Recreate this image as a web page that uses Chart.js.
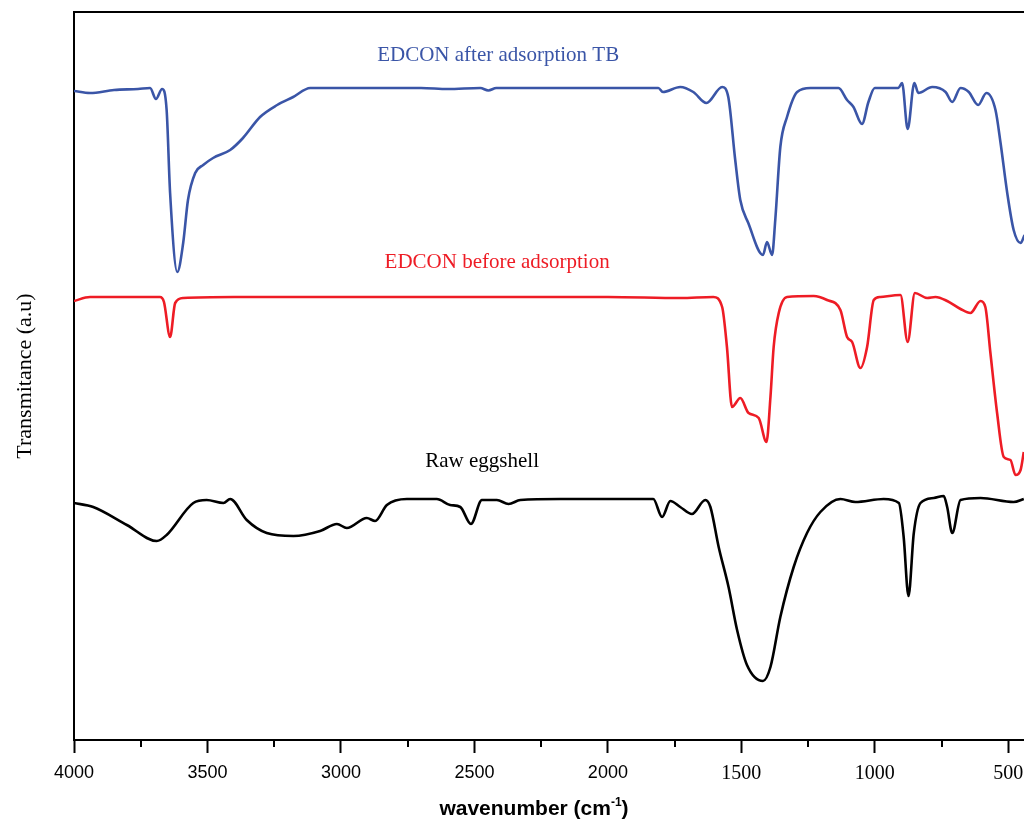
<!DOCTYPE html>
<html>
<head>
<meta charset="utf-8">
<script src="https://cdn.jsdelivr.net/npm/chart.js@4.4.1/dist/chart.umd.min.js"></script>
<style>
    html, body { margin: 0; padding: 0; background: #fff; overflow: hidden; }
    #wrap { width: 1035px; height: 821px; }
</style>
</head>
<body>
<div id="wrap"><canvas id="ftir" width="1035" height="821"></canvas></div>
<script>
/* ============================
============================ */
const xTicks = [4000, 3500, 3000, 2500, 2000, 1500, 1000, 500];
const xMinorTicks = [3750, 3250, 2750, 2250, 1750, 1250, 750];

// EDCON after adsorption TB
const afterWn = [4000, 3940, 3850, 3760, 3715, 3693, 3670, 3653, 3640, 3613,
    3591, 3573, 3546, 3516, 3479, 3415, 3367, 3303, 3239, 3179,
    3115, 3000, 2928, 2700, 2600, 2478, 2448, 2418, 2300, 2100,
    1954, 1811, 1794, 1729, 1680, 1631, 1572, 1549, 1523, 1504,
    1474, 1419, 1404, 1385, 1373, 1354, 1329, 1291, 1241, 1136,
    1104, 1080, 1048, 1024, 1000, 912, 898, 877, 852, 837,
    785, 735, 710, 679, 648, 613, 582, 548, 529, 504,
    480, 454, 439];
const afterT = [64.9, 64.7, 65.0, 65.1, 65.2, 64.1, 65.1, 63.0, 54.7, 46.8,
    49.7, 54.0, 56.7, 57.5, 58.2, 59.0, 60.2, 62.3, 63.5, 64.3,
    65.2, 65.2, 65.2, 65.2, 65.1, 65.2, 64.95, 65.2, 65.2, 65.2,
    65.2, 65.2, 64.8, 65.3, 64.8, 63.7, 65.3, 64.3, 58.0, 54.0,
    51.7, 48.5, 49.8, 48.5, 52.0, 59.3, 62.3, 64.8, 65.2, 65.2,
    64.0, 63.3, 61.6, 63.8, 65.2, 65.2, 65.7, 61.1, 65.7, 64.7,
    65.3, 64.8, 63.8, 65.2, 64.8, 63.5, 64.7, 63.0, 59.7, 54.7,
    51.0, 49.7, 50.5];

// EDCON before adsorption
const beforeWn = [4000, 3940, 3790, 3678, 3663, 3640, 3621, 3590, 3400, 3153,
    2800, 2403, 2000, 1729, 1605, 1572, 1554, 1535, 1504, 1473,
    1435, 1406, 1391, 1379, 1360, 1329, 1229, 1179, 1129, 1104,
    1085, 1054, 1029, 1004, 979, 904, 877, 850, 804, 773,
    729, 679, 642, 604, 586, 567, 542, 517, 492, 473,
    454, 442];
const beforeT = [43.9, 44.3, 44.3, 44.3, 43.8, 40.3, 43.7, 44.2, 44.3, 44.3,
    44.3, 44.3, 44.3, 44.2, 44.3, 43.3, 39.3, 33.3, 34.2, 32.7,
    32.2, 29.8, 34.3, 39.3, 42.7, 44.3, 44.4, 44.0, 43.0, 40.3,
    39.8, 37.2, 39.3, 44.0, 44.3, 44.5, 39.8, 44.7, 44.2, 44.3,
    43.9, 43.1, 42.7, 43.9, 43.3, 38.7, 32.7, 28.3, 28.0, 26.5,
    27.0, 28.8];

// Raw eggshell
const rawWn = [4000, 3928, 3802, 3690, 3653, 3553, 3503, 3440, 3415, 3353,
    3278, 3178, 3078, 3015, 2978, 2903, 2872, 2828, 2753, 2641,
    2591, 2553, 2513, 2472, 2416, 2372, 2328, 2178, 1830, 1797,
    1766, 1729, 1685, 1635, 1616, 1585, 1548, 1516, 1479, 1419,
    1391, 1354, 1304, 1254, 1204, 1129, 1073, 967, 910, 892,
    874, 854, 829, 779, 742, 729, 710, 679, 604, 480,
    442];
const rawT = [23.7, 23.3, 21.5, 19.9, 20.5, 23.7, 24.0, 23.7, 24.1, 22.0,
    20.7, 20.4, 20.9, 21.6, 21.2, 22.2, 21.9, 23.5, 24.1, 24.1,
    23.5, 23.3, 21.6, 24.0, 24.0, 23.6, 24.0, 24.1, 24.1, 22.3,
    23.9, 23.3, 22.6, 24.0, 23.3, 19.3, 15.3, 11.0, 7.5, 5.9,
    7.3, 12.3, 17.3, 20.7, 22.8, 24.1, 23.8, 24.1, 23.7, 20.3,
    14.4, 20.7, 23.7, 24.2, 24.4, 23.3, 20.7, 24.0, 24.2, 23.8,
    24.1];

const seriesNames = ["EDCON after adsorption TB", "EDCON before adsorption", "Raw eggshell"];

/* ============================
   Utils
============================ */
const toPoints = (xs, ys) => xs.map((x, i) => ({ x, y: ys[i] }));
const SERIF = "'Liberation Serif', 'Times New Roman', serif";
const SANS = "'Liberation Sans', Arial, sans-serif";
const BLUE = "#3a55a7";
const RED = "#ee1c25";

// etiquetas sobre las curvas (coordenadas de datos)
const etiquetas = [
    { text: seriesNames[0], x: 2411, y: 68.5, color: BLUE },
    { text: seriesNames[1], x: 2415, y: 47.8, color: RED },
    { text: seriesNames[2], x: 2471, y: 27.9, color: "#000" },
];

const decoPlugin = {
    id: "deco",
    afterDraw(chart) {
        const { ctx, chartArea, scales } = chart;
        const x = scales.x;
        ctx.save();
        // borde superior
        ctx.strokeStyle = "#000";
        ctx.lineWidth = 2;
        ctx.beginPath();
        ctx.moveTo(chartArea.left, chartArea.top);
        ctx.lineTo(chartArea.right, chartArea.top);
        ctx.stroke();

        // ticks menores
        xMinorTicks.forEach((v) => {
            const px = Math.round(x.getPixelForValue(v));
            ctx.beginPath();
            ctx.moveTo(px, chartArea.bottom);
            ctx.lineTo(px, chartArea.bottom + 7);
            ctx.stroke();
        });

        // etiquetas
        ctx.font = `21px ${SERIF}`;
        ctx.textAlign = "center";
        ctx.textBaseline = "middle";
        etiquetas.forEach((e) => {
            ctx.fillStyle = e.color;
            ctx.fillText(e.text, x.getPixelForValue(e.x), scales.y.getPixelForValue(e.y));
        });

        // título eje x con superíndice
        const big = `bold 21px ${SANS}`;
        const small = `bold 12px ${SANS}`;
        const p1 = "wavenumber (cm", p2 = "-1", p3 = ")";
        ctx.font = big;
        const w1 = ctx.measureText(p1).width, w3 = ctx.measureText(p3).width;
        ctx.font = small;
        const w2 = ctx.measureText(p2).width;
        let cx = 534 - (w1 + w2 + w3) / 2;
        const base = 815;
        ctx.textAlign = "left";
        ctx.textBaseline = "alphabetic";
        ctx.fillStyle = "#000";
        ctx.font = big;
        ctx.fillText(p1, cx, base);
        cx += w1;
        ctx.font = small;
        ctx.fillText(p2, cx, base - 9);
        cx += w2;
        ctx.font = big;
        ctx.fillText(p3, cx, base);
        ctx.restore();
    }
};

/* ============================
   Gráfica
============================ */
const lineStyle = (color) => ({
    borderColor: color,
    backgroundColor: color,
    borderWidth: 2.6,
    pointRadius: 0,
    fill: false,
    cubicInterpolationMode: "monotone",
});

new Chart(document.getElementById("ftir").getContext("2d"), {
    type: "line",
    data: {
        datasets: [
            { label: seriesNames[0], data: toPoints(afterWn, afterT), ...lineStyle(BLUE) },
            { label: seriesNames[1], data: toPoints(beforeWn, beforeT), ...lineStyle(RED) },
            { label: seriesNames[2], data: toPoints(rawWn, rawT), ...lineStyle("#000") },
        ]
    },
    options: {
        responsive: false,
        animation: false,
        devicePixelRatio: 1,
        layout: { padding: { top: 12, right: 0, bottom: 0, left: 0 } },
        plugins: { legend: { display: false }, tooltip: { enabled: false } },
        scales: {
            x: {
                type: "linear",
                reverse: true,
                min: 400,
                max: 4000,
                afterBuildTicks: (scale) => { scale.ticks = xTicks.map((v) => ({ value: v })); },
                afterFit: (scale) => { scale.height = 81; },
                grid: { display: true, drawOnChartArea: false, drawTicks: true, tickLength: 13, tickWidth: 2, tickColor: "#000" },
                border: { display: true, color: "#000", width: 2 },
                ticks: {
                    color: "#000",
                    padding: 9,
                    maxRotation: 0,
                    autoSkip: false,
                    callback: (v) => String(v),
                    font: (c) => (c.tick && c.tick.value <= 1500)
                        ? { family: SERIF, size: 20 }
                        : { family: SANS, size: 18 },
                }
            },
            y: {
                min: 0,
                max: 72.8,
                afterFit: (scale) => { scale.width = 74; },
                grid: { display: false, drawTicks: false },
                border: { display: true, color: "#000", width: 2 },
                ticks: { display: false },
                title: {
                    display: true,
                    text: "Transmitance (a.u)",
                    color: "#000",
                    font: { family: SERIF, size: 22 },
                    padding: { top: 12, bottom: 0 },
                }
            }
        }
    },
    plugins: [decoPlugin]
});
</script>
</body>
</html>
